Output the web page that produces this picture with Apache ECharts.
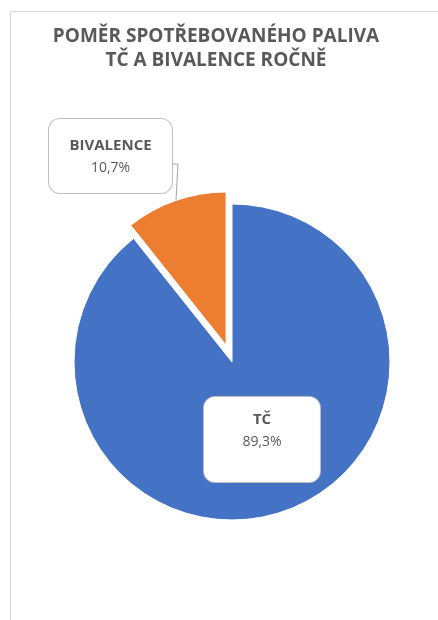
<!DOCTYPE html>
<html>
<head>
<meta charset="utf-8">
<script src="https://cdn.jsdelivr.net/npm/echarts@6/dist/echarts.min.js"></script>
<style>
  html, body { margin: 0; padding: 0; background: #fff; }
  #chart { width: 438px; height: 620px; }
</style>
</head>
<body>
<div id="chart"></div>
<script>
// Podíl spotřebovaného paliva: tepelné čerpadlo vs. bivalentní zdroj
const categories = ['TČ', 'BIVALENCE'];
const shares = [89.3, 10.7];
const colors = ['#4472C4', '#ED7D31'];
const explodedIndex = 1;   // the BIVALENCE slice is pulled out of the pie

const textColor = '#595959';
const font = '"Open Sans", "Noto Sans", sans-serif';

const pieCenter = [232, 362];
const pieRadius = 158;
const explodedRadius = 153;
const explodeDist = 18;

function pct(v) {
  return v.toFixed(1).replace('.', ',') + '%';
}

// Centre of the exploded slice: shifted along its bisector
function explodedCenter() {
  const total = shares.reduce((a, b) => a + b, 0);
  let before = 0;
  for (let i = 0; i < explodedIndex; i++) before += shares[i];
  const midFrac = (before + shares[explodedIndex] / 2) / total;
  const ang = Math.PI / 2 - midFrac * 2 * Math.PI; // clockwise from 12 o'clock
  return [pieCenter[0] + explodeDist * Math.cos(ang), pieCenter[1] - explodeDist * Math.sin(ang)];
}

// Label callout boxes (centre of each box, in pixels)
const boxes = [
  { x: 262, y: 439.5, width: 116, height: 85, pad: [11, 0, 30, 0] },
  { x: 110.5, y: 156, width: 123, height: 74, pad: [15, 0, 13, 0] }
];

const labelBase = {
  show: true,
  position: 'outside',
  backgroundColor: '#fff',
  borderColor: '#bfbfbf',
  borderWidth: 1,
  borderRadius: 11,
  align: 'center',
  verticalAlign: 'top',
  formatter: p => '{n|' + p.name + '}\n{v|' + pct(p.value) + '}',
  rich: {
    n: { fontFamily: font, fontSize: 15, fontWeight: 'bold', color: textColor, lineHeight: 23, align: 'center' },
    v: { fontFamily: font, fontSize: 14, color: textColor, lineHeight: 23, align: 'center' }
  }
};

function labelFor(i) {
  return Object.assign({}, labelBase, {
    width: boxes[i].width,
    height: boxes[i].height - boxes[i].pad[0] - boxes[i].pad[2],
    padding: boxes[i].pad
  });
}

// paintExploded: whether this series paints the pulled-out slice or the rest
function pieSeries(center, radius, paintExploded) {
  return {
    type: 'pie',
    center: center,
    radius: [0, radius],
    startAngle: 90,
    clockwise: true,
    avoidLabelOverlap: false,
    silent: true,
    emphasis: { disabled: true },
    data: categories.map((name, i) => {
      const paint = (i === explodedIndex) === paintExploded;
      return {
        name: name,
        value: shares[i],
        itemStyle: paint
          ? { color: colors[i], borderColor: '#fff', borderWidth: 1 }
          : { color: 'rgba(0,0,0,0)', borderWidth: 0 },
        label: paint ? labelFor(i) : { show: false },
        labelLine: { show: paint && i === explodedIndex, lineStyle: { color: '#a6a6a6', width: 1 } }
      };
    }),
    labelLayout: function (params) {
      const b = boxes[params.dataIndex];
      const out = {
        x: b.x,
        y: b.y - b.height / 2,
        align: 'center',
        verticalAlign: 'top'
      };
      if (params.dataIndex === explodedIndex) {
        const right = b.x + b.width / 2;
        out.labelLinePoints = [[176, 200], [178, 164], [right, 164]];
      }
      return out;
    }
  };
}

const chart = echarts.init(document.getElementById('chart'), null, { renderer: 'canvas' });

chart.setOption({
  animation: false,
  backgroundColor: '#fff',
  title: {
    text: 'POMĚR SPOTŘEBOVANÉHO PALIVA\nTČ A BIVALENCE ROČNĚ',
    left: 211,
    top: 20,
    textAlign: 'center',
    textStyle: {
      fontFamily: font,
      fontSize: 19,
      fontWeight: 'bold',
      color: textColor,
      lineHeight: 24
    }
  },
  graphic: [{
    type: 'rect',
    shape: { x: 10.5, y: 11.5, width: 460, height: 640 },
    style: { fill: 'none', stroke: '#d9d9d9', lineWidth: 1 },
    silent: true,
    z: -1
  }],
  series: [
    pieSeries(pieCenter, pieRadius, false),
    pieSeries(explodedCenter(), explodedRadius, true)
  ]
});
</script>
</body>
</html>
